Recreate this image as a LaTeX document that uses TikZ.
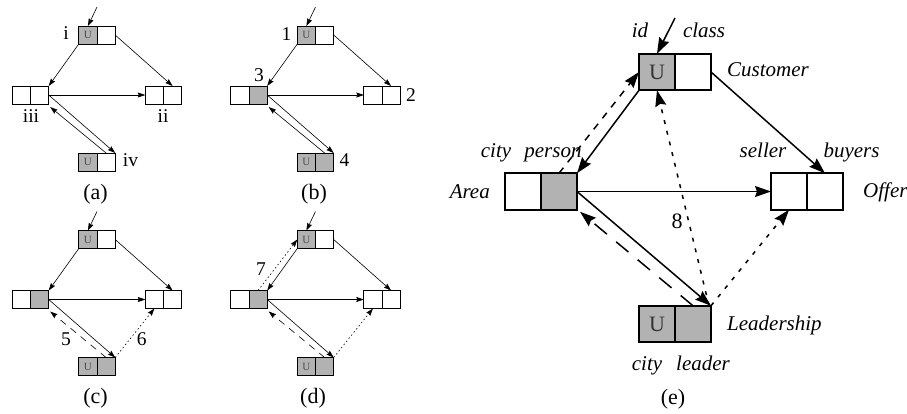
\documentclass[tikz,border=0pt]{standalone}
\usepackage{fontspec}
\setmainfont{Liberation Serif}
\usetikzlibrary{arrows.meta}

\definecolor{cellgray}{gray}{0.70}
\definecolor{ugray}{gray}{0.30}

\tikzset{
  smcell/.style={draw, line width=0.8pt, minimum width=18.2pt, minimum height=18pt,
    inner sep=0pt, outer sep=0pt, font=\fontsize{11}{11}\selectfont, text=ugray},
  bigcell/.style={draw, line width=2pt, minimum width=36pt, minimum height=36.5pt,
    inner sep=0pt, outer sep=0pt, font=\fontsize{22}{22}\selectfont, text=black!80},
  smarrow/.style={line width=0.6pt, -{Stealth[length=7.5pt,width=5pt,inset=1pt]}},
  bigarrow/.style={line width=1.5pt, -{Stealth[length=16pt,width=11pt,inset=2pt]}},
  smdots/.style={dash pattern=on 1.5pt off 2.5pt},
  smdash/.style={dash pattern=on 7pt off 6pt},
  bigdots/.style={dash pattern=on 4pt off 7pt},
  bigdash/.style={dash pattern=on 7pt off 7pt},
  biglongdash/.style={dash pattern=on 16pt off 12pt},
  smlabel/.style={font=\fontsize{19.5}{19.5}\selectfont, inner sep=0pt, anchor=base},
  caption/.style={font=\fontsize{22}{22}\selectfont, inner sep=0pt, anchor=base},
  attr/.style={font=\fontsize{21}{21}\selectfont\itshape, inner sep=0pt, anchor=base},
}

% a record drawn as two adjacent cells: #1 name, #2 centre, #3 cell style,
% #4 left fill, #5 right fill, #6 text of the left cell
\newcommand\cellpair[6]{%
  \node[#3, fill=#4, anchor=east] (#1-l) at (#2) {#6};
  \node[#3, fill=#5, anchor=west] (#1-r) at (#2) {};
}

% one small graph: #1 prefix, #2 offset, #3 fill of the left record's right cell,
% #4 fill of the bottom record's right cell, #5 style of the return line
\newcommand\smallpanel[5]{%
  \begin{scope}[shift={(#2)}]
    \cellpair{#1T}{97,35}{smcell}{cellgray}{white}{U}
    \cellpair{#1L}{30.5,95}{smcell}{white}{#3}{}
    \cellpair{#1R}{163.5,95}{smcell}{white}{white}{}
    \cellpair{#1B}{97,162}{smcell}{cellgray}{#4}{U}
    \coordinate (#1in) at (97,7);
    \draw[smarrow] (#1in) -- (#1T-l.north);
    \draw[smarrow] (#1T-l.south west) -- (#1L-r.north east);
    \draw[smarrow] (#1T-r.east) -- (#1R-r.north);
    \draw[smarrow] (#1L-r.east) -- (#1R-l.west);
    \draw[smarrow] (#1L-r.east) -- (#1B-r.north east);
    \draw[smarrow,#5] (#1B-r.north) -- ([shift={(1.5,3)}]#1L-r.south east);
  \end{scope}
}

\begin{document}
\begin{tikzpicture}[x=1pt,y=-1pt]
\useasboundingbox (0,0) rectangle (907,413);

% (a)
\smallpanel{a}{0,0}{white}{white}{}
\node[smlabel] (la1) at (66,39.5) {i};
\node[smlabel] (la2) at (163,122.5) {ii};
\node[smlabel] (la3) at (31,122.5) {iii};
\node[smlabel] (la4) at (130.5,166.5) {iv};
\node[caption] (capa) at (95.5,199) {(a)};

% (b)
\smallpanel{b}{218.5,0}{cellgray}{cellgray}{}
\node[smlabel] (lb1) at (286.5,40) {1};
\node[smlabel] (lb2) at (411,101.5) {2};
\node[smlabel] (lb3) at (259,81.5) {3};
\node[smlabel] (lb4) at (344.5,166.5) {4};
\node[caption] (capb) at (314,199) {(b)};

% (c)
\smallpanel{c}{0,204.5}{cellgray}{cellgray}{smdash}
\draw[smarrow,smdots] (cB-r.north east) -- (cR-l.south);
\node[smlabel] (lc5) at (66,345) {5};
\node[smlabel] (lc6) at (141.7,345) {6};
\node[caption] (capc) at (95.5,403.5) {(c)};

% (d)
\smallpanel{d}{218.5,204.5}{cellgray}{cellgray}{smdash}
\draw[smarrow,smdots] (dB-r.north east) -- (dR-l.south);
\draw[smarrow,smdots] (dL-r.north) -- (dT-l.west);
\node[smlabel] (ld7) at (261,275) {7};
\node[caption] (capd) at (313,403.5) {(d)};

% (e)
\cellpair{eT}{675,72}{bigcell}{cellgray}{white}{U}
\cellpair{eL}{541,191.5}{bigcell}{white}{cellgray}{}
\cellpair{eR}{807,191.5}{bigcell}{white}{white}{}
\cellpair{eB}{675,324}{bigcell}{cellgray}{cellgray}{U}
\coordinate (ein) at (675,18);
\draw[bigarrow] (ein) -- (eT-l.north);
\draw[bigarrow] (eT-l.south west) -- (eL-r.north east);
\draw[bigarrow] (eT-r.east) -- (eR-r.north);
\draw[bigarrow] (eL-r.east) -- (eR-l.west);
\draw[bigarrow] (eL-r.east) -- (eB-r.north east);
\draw[bigarrow,biglongdash] (eB-r.north) -- ([shift={(3,2)}]eL-r.south east);
\draw[bigarrow,bigdash] (eL-r.north) -- (eT-l.west);
\draw[bigarrow,bigdots] ([xshift=-2pt]eB-r.north east) -- (eT-l.south);
\draw[bigarrow,bigdots] (eB-r.north east) -- (eR-l.south);

\node[attr] (tid) at (640,37) {id};
\node[attr] (tclass) at (704,37) {class};
\node[attr, anchor=base west] (tcust) at (727,76.5) {Customer};
\node[attr] (tcity1) at (496,157) {city};
\node[attr] (tperson) at (553,157) {person};
\node[attr, anchor=base east] (tarea) at (490,198) {Area};
\node[attr] (tseller) at (763,157) {seller};
\node[attr] (tbuyers) at (851.5,157) {buyers};
\node[attr, anchor=base west] (toffer) at (863,197) {Offer};
\node[attr, anchor=base west] (tlead) at (727,330) {Leadership};
\node[attr] (tcity2) at (647,370) {city};
\node[attr] (tleader) at (703,370) {leader};
\node[caption] (le8) at (677,228) {8};
\node[caption] (cape) at (673,404) {(e)};
\end{tikzpicture}
\end{document}
